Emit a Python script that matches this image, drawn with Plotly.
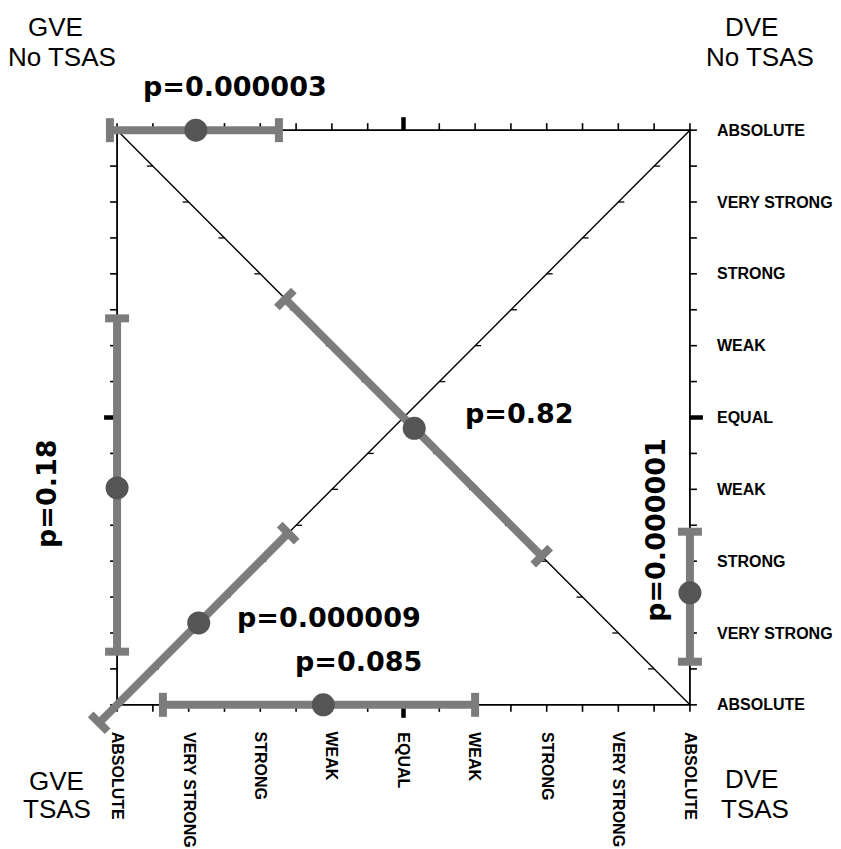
import numpy as np
import plotly.graph_objects as go

# ---------------- data ----------------
SCALE_VALUES = [-4, -3, -2, -1, 0, 1, 2, 3, 4]
X_TICK_LABELS = ["ABSOLUTE", "VERY STRONG", "STRONG", "WEAK", "EQUAL",
                 "WEAK", "STRONG", "VERY STRONG", "ABSOLUTE"]
Y_TICK_LABELS = ["ABSOLUTE", "VERY STRONG", "STRONG", "WEAK", "EQUAL",
                 "WEAK", "STRONG", "VERY STRONG", "ABSOLUTE"]

# comparison tracks: the four frame sides and the two diagonals
TRACKS = ["top", "left", "right", "bottom", "diag_down", "diag_up"]
CI_LOW = [-4.10, -3.26, -3.40, -3.36, -1.65, -4.25]
POINT = [-2.90, -0.98, -2.44, -1.12, 0.15, -2.86]
CI_HIGH = [-1.74, 1.38, -1.59, 1.00, 1.93, -1.61]
P_TEXT = ["p=0.000003", "p=0.18", "p=0.000001", "p=0.085", "p=0.82", "p=0.000009"]

CORNER_TOP = ["GVE", "DVE", "GVE", "DVE"]
CORNER_BOTTOM = ["No TSAS", "No TSAS", "TSAS", "TSAS"]

# ---------------- layout geometry (page pixels) ----------------
PAGE_W, PAGE_H = 841, 849
OFF = 8  # default body margin of the html page
W, H = PAGE_W - OFF, PAGE_H - OFF
FRAME_L, FRAME_R, FRAME_T, FRAME_B = 117 - OFF, 690 - OFF, 130 - OFF, 705 - OFF
LIM = 4
PAD = 0.42
UX = (FRAME_R - FRAME_L) / (2 * LIM)
UY = (FRAME_B - FRAME_T) / (2 * LIM)
ML = FRAME_L - PAD * UX
MR = W - (FRAME_R + PAD * UX)
MT = FRAME_T - PAD * UY
MB = H - (FRAME_B + PAD * UY)
PW = W - ML - MR
PH = H - MT - MB


def px2paper(px, py):
    px -= OFF
    py -= OFF
    return (px - ML) / PW, 1 - (py - MT) / PH


def track_xy(track, t):
    if track == "top":
        return t, LIM
    if track == "bottom":
        return t, -LIM
    if track == "left":
        return -LIM, t
    if track == "right":
        return LIM, t
    if track == "diag_down":
        return t, -t
    return t, t


def track_perp(track):
    if track in ("top", "bottom"):
        return 0.0, 1.0
    if track in ("left", "right"):
        return 1.0, 0.0
    if track == "diag_down":
        return 1 / np.sqrt(2), 1 / np.sqrt(2)
    return 1 / np.sqrt(2), -1 / np.sqrt(2)


fig = go.Figure()

BLACK = "#000000"
BAR = "#7c7c7c"
DOT = "#555555"

# frame
fx = [-LIM, LIM, LIM, -LIM, -LIM]
fy = [LIM, LIM, -LIM, -LIM, LIM]
fig.add_trace(go.Scatter(x=fx, y=fy, mode="lines", line=dict(color=BLACK, width=1.8),
                         hoverinfo="skip", showlegend=False))

# diagonals
fig.add_trace(go.Scatter(x=[-LIM, LIM, None, -LIM, LIM], y=[-LIM, LIM, None, LIM, -LIM],
                         mode="lines", line=dict(color=BLACK, width=1.4),
                         hoverinfo="skip", showlegend=False))

# frame ticks (outward), every half unit
halfs = np.arange(-LIM, LIM + 0.001, 0.5)
tl = 7
tx, ty = [], []
for v in halfs:
    if v == 0:
        continue
    tx += [v, v, None, v, v, None]
    ty += [LIM, LIM + tl / UY, None, -LIM, -LIM - tl / UY, None]
    tx += [-LIM, -LIM - tl / UX, None, LIM, LIM + tl / UX, None]
    ty += [v, v, None, v, v, None]
fig.add_trace(go.Scatter(x=tx, y=ty, mode="lines", line=dict(color=BLACK, width=1.6),
                         hoverinfo="skip", showlegend=False))
# EQUAL ticks (bold)
el = 13
ex = [0, 0, None, 0, 0, None, -LIM, -LIM - el / UX, None, LIM, LIM + el / UX]
ey = [LIM, LIM + el / UY, None, -LIM, -LIM - el / UY, None, 0, 0, None, 0, 0]
fig.add_trace(go.Scatter(x=ex, y=ey, mode="lines", line=dict(color=BLACK, width=4.5),
                         hoverinfo="skip", showlegend=False))

# diagonal ticks
dl = 6
dx, dy = [], []
for v in halfs[1:-1]:
    if v == 0:
        continue
    dx += [v - dl / UX, v, None]
    dy += [-v, -v, None]
    dx += [v, v + dl / UX, None]
    dy += [v, v, None]
fig.add_trace(go.Scatter(x=dx, y=dy, mode="lines", line=dict(color=BLACK, width=1.3),
                         hoverinfo="skip", showlegend=False))

# error bars
cap = 12
for tr, lo, pt, hi in zip(TRACKS, CI_LOW, POINT, CI_HIGH):
    x0, y0 = track_xy(tr, lo)
    x1, y1 = track_xy(tr, hi)
    fig.add_trace(go.Scatter(x=[x0, x1], y=[y0, y1], mode="lines",
                             line=dict(color=BAR, width=8),
                             hoverinfo="skip", showlegend=False))
    px_, py_ = track_perp(tr)
    cx, cy = [], []
    for (xx, yy) in ((x0, y0), (x1, y1)):
        cx += [xx - px_ * cap / UX, xx + px_ * cap / UX, None]
        cy += [yy - py_ * cap / UY, yy + py_ * cap / UY, None]
    fig.add_trace(go.Scatter(x=cx, y=cy, mode="lines",
                             line=dict(color=BAR, width=8),
                             hoverinfo="skip", showlegend=False))
    mx, my = track_xy(tr, pt)
    fig.add_trace(go.Scatter(x=[mx], y=[my], mode="markers",
                             marker=dict(color=DOT, size=23, line=dict(width=0)),
                             hoverinfo="skip", showlegend=False, cliponaxis=False))

annotations = []

# scale labels (bottom: rotated, right: horizontal)
tickfont = dict(family="Liberation Sans, Arial", size=16, color=BLACK, weight="bold")
for v, lab in zip(SCALE_VALUES, X_TICK_LABELS):
    annotations.append(dict(x=v, y=-LIM, xref="x", yref="y", text=lab, showarrow=False,
                            textangle=90, xanchor="center", yanchor="top", yshift=-25,
                            font=tickfont))
for v, lab in zip(SCALE_VALUES, Y_TICK_LABELS):
    annotations.append(dict(x=LIM, y=v, xref="x", yref="y", text=lab, showarrow=False,
                            xanchor="left", yanchor="middle", xshift=25,
                            font=tickfont))

# p-value labels (page-pixel positions of their centres, rotation)
P_POS = [(235, 86, 0), (47, 494, -90), (656, 530, -90), (358, 662, 0), (520, 413, 0), (329, 618, 0)]
for txt, (px, py, ang) in zip(P_TEXT, P_POS):
    ax_, ay_ = px2paper(px, py)
    annotations.append(dict(x=ax_, y=ay_, xref="paper", yref="paper", text=txt,
                            showarrow=False, textangle=ang, xanchor="center", yanchor="middle",
                            font=dict(family="DejaVu Sans", size=27, color=BLACK, weight="bold")))

# corner labels
CORNER_POS = [((55, 27), (62, 57)), ((752, 27), (760, 57)),
              ((56, 781), (57, 809)), ((752, 779), (755, 809))]
for t1, t2, (p1, p2) in zip(CORNER_TOP, CORNER_BOTTOM, CORNER_POS):
    for txt, (px, py) in ((t1, p1), (t2, p2)):
        ax_, ay_ = px2paper(px, py)
        annotations.append(dict(x=ax_, y=ay_, xref="paper", yref="paper", text=txt,
                                showarrow=False, xanchor="center", yanchor="middle",
                                font=dict(family="Liberation Sans, Arial", size=26, color=BLACK)))

fig.update_layout(
    width=W, height=H,
    margin=dict(l=ML, r=MR, t=MT, b=MB, pad=0, autoexpand=False),
    paper_bgcolor="white", plot_bgcolor="white",
    xaxis=dict(range=[-LIM - PAD, LIM + PAD], showticklabels=False, automargin=False,
               showgrid=False, zeroline=False, showline=False, ticks="", fixedrange=True),
    yaxis=dict(range=[-LIM - PAD, LIM + PAD], showticklabels=False, automargin=False,
               showgrid=False, zeroline=False, showline=False, ticks="", fixedrange=True),
    annotations=annotations,
    showlegend=False,
)

fig.write_html("out.html")
